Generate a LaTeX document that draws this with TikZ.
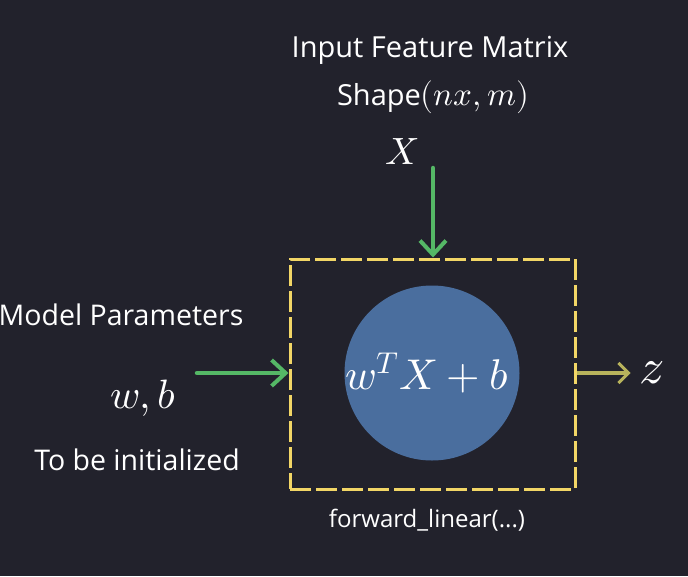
\documentclass[tikz,border=0pt]{standalone}
\usepackage{fontspec}
\usepackage{unicode-math}
\setmainfont{Open Sans}
\setmathfont{Latin Modern Math}
\usetikzlibrary{arrows.meta}
\definecolor{bg}{HTML}{22222C}
\definecolor{boxy}{HTML}{F2D666}
\definecolor{circ}{HTML}{4A6E9E}
\definecolor{grn}{HTML}{55B866}
\definecolor{oliv}{HTML}{B8B35C}
\tikzset{
  lbl/.style={text=white, inner sep=0pt},
  garrow/.style={draw=grn, line width=4.5pt, line cap=round, -{Straight Barb[length=14pt,width=26pt,line width=4pt]}},
  yarrow/.style={draw=oliv, line width=3.5pt, -{Straight Barb[length=10pt,width=20pt,line width=3pt]}},
}
\begin{document}
\begin{tikzpicture}[x=1pt,y=-1pt]
\fill[bg] (0,0) rectangle (688,576);
\useasboundingbox (0,0) rectangle (688,576);
\node[draw=boxy, line width=3pt, dash pattern=on 21pt off 5pt, minimum width=285pt, minimum height=230pt, inner sep=0pt] (box) at (432.5,374) {};
\node[circle, fill=circ, minimum size=175pt, inner sep=0pt] (c) at (432,373) {};
\node[lbl] (f) at (427,373) {\fontsize{43}{50}\selectfont $w^TX+b$};
\node[lbl] (t1) at (430,50) {\fontsize{29}{34}\selectfont Input Feature Matrix};
\node[lbl] (t2) at (433,97) {\fontsize{29}{34}\selectfont Shape{\fontsize{33}{38}\selectfont$(nx,m)$}};
\node[lbl] (X) at (402,152) {\fontsize{38}{44}\selectfont $X$};
\coordinate (xs) at (433,168);
\draw[garrow] (xs) -- (box.north -| xs);
\node[lbl] (mp) at (121,315) {\fontsize{28.5}{34}\selectfont Model Parameters};
\node[lbl] (wb) at (143,398) {\fontsize{41}{48}\selectfont $w,b$};
\node[lbl] (tbi) at (137,460) {\fontsize{28.5}{34}\selectfont To be initialized};
\coordinate (ls) at (197,373);
\draw[garrow] (ls) -- (box.west |- ls);
\node[lbl] (z) at (652,373) {\fontsize{50}{56}\selectfont $z$};
\draw[yarrow] (box.east |- ls) -- ++(54,0);
\node[lbl] (fl) at (427,520) {\fontsize{24}{29}\selectfont forward\_linear(...)};
\end{tikzpicture}
\end{document}
